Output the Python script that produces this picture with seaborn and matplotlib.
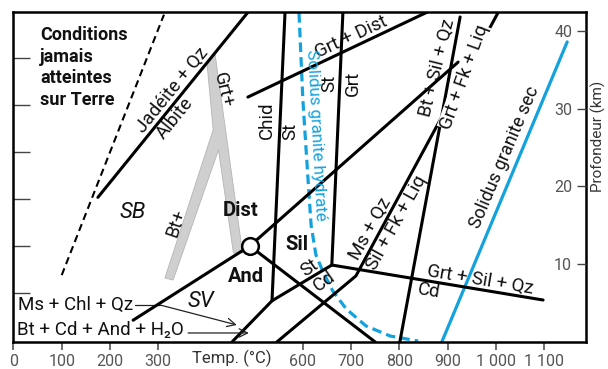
import numpy as np
import pandas as pd
import matplotlib
matplotlib.use("Agg")
import matplotlib.pyplot as plt
import seaborn as sns

# --- values: temperature (°C) vs depth (km) ---
never_T = [100, 312]
never_D = [8.6, 42.1]

jadeite_T = [175, 486]
jadeite_D = [18.6, 42.4]

and_ky_T = [248, 490]
and_ky_D = [2.8, 12.35]
ky_sil_T = [490, 922]
ky_sil_D = [12.35, 36.0]
and_sil_T = [490, 750]
and_sil_D = [12.35, 0.0]

chid_st_T = [563, 536]
chid_st_D = [42.4, 5.3]
ms_chl_T = [453, 536, 660]
ms_chl_D = [0.0, 5.3, 9.9]
st_grt_T = [683, 660]
st_grt_D = [42.4, 9.9]
grt_dist_T = [486, 857]
grt_dist_D = [31.5, 42.4]
grt_cd_T = [660, 1098]
grt_cd_D = [9.9, 5.4]
bt_sil_T = [926, 801]
bt_sil_D = [41.8, 0.0]
ms_qz_T = [546, 710, 1005]
ms_qz_D = [0.0, 8.5, 42.4]

# gradient band (Y shape, Grt+ / Bt+)
band_T = [401, 418, 475, 456, 425, 331, 314, 414]
band_D = [36.0, 37.0, 11.45, 11.45, 24.7, 7.97, 8.23, 27.3]

triple_T = [490]
triple_D = [12.35]

wet_solidus_T = [592, 600, 609, 617, 627, 642, 662, 690, 731, 781, 839]
wet_solidus_D = [42.3, 31.1, 22.5, 15.05, 11.2, 9.0, 6.56, 4.24, 2.06, 0.77, 0.13]
dry_solidus_T = [888, 1148]
dry_solidus_D = [0.0, 38.6]

x_ticks = [0, 100, 200, 300, 600, 700, 800, 900, 1000, 1100]
x_ticklabels = ['0', '100', '200', '300', '600', '700', '800', '900', '1 000', '1 100']
depth_ticks = [10, 20, 30, 40]
left_ticks = [6.3, 12.35, 18.4, 24.45, 30.5, 36.55]

BLUE = '#13a2dd'
INK = '#111111'

sns.set_theme(style='white')
plt.rcParams['font.family'] = ['Roboto', 'DejaVu Sans']

fig = plt.figure(figsize=(6.08, 3.69), dpi=100)
ax = fig.add_axes([13 / 608, 27 / 369, 573 / 608, 330 / 369])

# grey band
ax.fill(band_T, band_D, facecolor='#cfcfcf', edgecolor='#b5b5b5', lw=0.6, zorder=1)

# black reaction lines
parts = []
for name, t, d in [('jad', jadeite_T, jadeite_D), ('andky', and_ky_T, and_ky_D),
                   ('kysil', ky_sil_T, ky_sil_D), ('andsil', and_sil_T, and_sil_D),
                   ('chid', chid_st_T, chid_st_D), ('mschl', ms_chl_T, ms_chl_D),
                   ('stgrt', st_grt_T, st_grt_D), ('grtdist', grt_dist_T, grt_dist_D),
                   ('grtcd', grt_cd_T, grt_cd_D), ('btsil', bt_sil_T, bt_sil_D),
                   ('msqz', ms_qz_T, ms_qz_D)]:
    parts.append(pd.DataFrame({'T': t, 'D': d, 'line': name}))
df_lines = pd.concat(parts, ignore_index=True)
sns.lineplot(data=df_lines, x='T', y='D', units='line', estimator=None, sort=False,
             color='black', lw=2.2, ax=ax, legend=False, zorder=3)

sns.lineplot(x=never_T, y=never_D, sort=False, color='black', lw=1.5,
             linestyle=(0, (3.5, 2.2)), ax=ax, zorder=3)
sns.lineplot(x=wet_solidus_T, y=wet_solidus_D, sort=False, color=BLUE, lw=2.3,
             linestyle=(0, (3, 1.6)), ax=ax, zorder=2)
sns.lineplot(x=dry_solidus_T, y=dry_solidus_D, sort=False, color=BLUE, lw=2.3, ax=ax, zorder=2)

ax.plot(triple_T, triple_D, 'o', ms=12, mfc='white', mec='black', mew=1.8, zorder=5)

# arrows for the SV reaction
arrow = dict(arrowstyle='->,head_length=0.5,head_width=0.25', lw=0.9, color='#222',
             shrinkA=0, shrinkB=0)
ax.plot([252, 304], [4.76, 4.76], color='#222', lw=0.9)
ax.annotate('', xy=(463, 2.19), xytext=(304, 4.76), arrowprops=arrow)
ax.annotate('', xy=(488, 1.16), xytext=(362, 1.16), arrowprops=arrow)


def lab(t, d, s, rot=0, size=13.5, **kw):
    ax.text(t, d, s, rotation=rot, ha=kw.pop('ha', 'center'), va=kw.pop('va', 'center'),
            rotation_mode='anchor', fontsize=size, color=kw.pop('color', INK), zorder=6, **kw)


def along(t, d, s, rot, side='above', gap=0.8, size=13.5, **kw):
    # label sitting on one side of a line through (t, d)
    r = np.deg2rad(rot)
    sgn = 1 if side == 'above' else -1
    ax.annotate(s, (t, d), xytext=(-np.sin(r) * gap * sgn, np.cos(r) * gap * sgn),
                textcoords='offset points', rotation=rot, rotation_mode='anchor',
                ha='center', va='bottom' if side == 'above' else 'top',
                fontsize=size, color=kw.pop('color', INK), zorder=6, **kw)


ax.text(55, 40.6, 'Conditions\njamais\natteintes\nsur Terre', ha='left', va='top',
        fontsize=13, fontweight='bold', color=INK, linespacing=1.25)
along(344.6, 31.55, 'Jadéite + Qz', 51, 'above')
along(319.3, 29.6, 'Albite', 51, 'below')
lab(434, 32.4, 'Grt+', -76)
lab(337, 15.3, 'Bt+', 71)
lab(248, 16.7, 'SB', size=16, style='italic')
lab(389, 5.27, 'SV', size=16, style='italic')
lab(470, 16.85, 'Dist', size=14.5, fontweight='bold')
lab(482, 8.36, 'And', size=14.5, fontweight='bold')
lab(588, 12.6, 'Sil', size=14.5, fontweight='bold')
lab(526, 28.55, 'Chid', 90)
lab(573, 27.1, 'St', 90)
lab(654, 33.2, 'St', 90)
lab(704, 33.2, 'Grt', 90)
along(709.8, 38.0, 'Grt + Dist', 25, 'above')
lab(627, 26.6, 'Solidus granite hydraté', -87, size=12.2, color=BLUE)
along(624.9, 8.5, 'St', 35, 'above', gap=0.5)
along(632.6, 8.87, 'Cd', 35, 'below', gap=0.5)
along(758.3, 13.96, 'Ms + Qz', 61, 'above')
along(776.5, 16.0, 'Sil + Fk + Liq', 61, 'below')
lab(878, 35.24, 'Bt + Sil + Qz', 76)
lab(934, 34.08, 'Grt + Fk + Liq', 70,
    bbox=dict(boxstyle='square,pad=0', fc='white', ec='none'))
along(963.7, 6.78, 'Grt + Sil + Qz', -9.5, 'above', gap=0.3)
along(864.4, 7.81, 'Cd', -9.5, 'below', gap=0.5)
lab(1019, 23.79, 'Solidus granite sec', 67, size=13)
lab(9, 4.76, 'Ms + Chl + Qz', ha='left')
lab(7, 1.54, 'Bt + Cd + And + H₂O', ha='left')

ax.set_xlim(-1, 1187)
ax.set_ylim(0, 42.44)
ax.set_xlabel('')
ax.set_ylabel('')

ax.set_xticks(x_ticks, x_ticklabels)
ax.tick_params(axis='x', bottom=True, direction='out', length=6, width=1.1, color='#444',
               labelsize=11.5, labelcolor='#555', pad=3)
ax.set_yticks(left_ticks, [])
ax.tick_params(axis='y', left=True, direction='in', length=12, width=1, color='#444')
ax.text(453, -2.15, 'Temp. (°C)', ha='center', va='center', fontsize=12, color='#333', clip_on=False)

ax2 = ax.twinx()
ax2.set_ylim(0, 42.44)
ax2.set_yticks(depth_ticks, [str(v) for v in depth_ticks])
ax2.tick_params(axis='y', right=True, direction='in', length=6.5, width=1, color='#444',
                labelsize=11.5, labelcolor='#555', pad=-10)
plt.setp(ax2.get_yticklabels(), ha='right')
ax2.grid(False)
for sp in ax2.spines.values():
    sp.set_visible(False)
ax.text(1212, 26.4, 'Profondeur (km)', rotation=90, ha='center', va='center',
        fontsize=11, color='#333', clip_on=False)

for sp in ax.spines.values():
    sp.set_visible(True)
    sp.set_linewidth(1.8)
    sp.set_color('black')
ax.grid(False)

fig.savefig('out.png', dpi=100)
